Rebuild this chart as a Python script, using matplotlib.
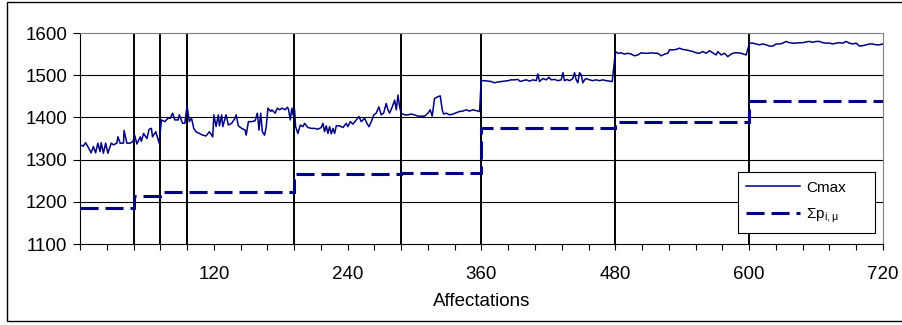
import matplotlib
matplotlib.use("Agg")
import matplotlib.pyplot as plt
from matplotlib.patches import Rectangle
from matplotlib.ticker import FixedLocator, FuncFormatter

plt.rcParams['font.family'] = ['Liberation Sans', 'DejaVu Sans']
plt.rcParams['mathtext.fontset'] = 'custom'
plt.rcParams['mathtext.rm'] = 'Liberation Sans'
plt.rcParams['mathtext.it'] = 'Liberation Sans'
plt.rcParams['lines.scale_dashes'] = False

# Cmax (affectation index, value)
cmax_x = [0, 3, 5, 7, 10, 12, 14, 16, 18, 19, 21, 23, 25, 28, 30, 33, 34, 36, 39, 39.5,
          42, 45, 47.5, 49, 51, 54, 55, 57, 60, 62, 64, 65, 68, 71, 73, 76, 79, 81,
          83, 85, 88, 89, 92, 94, 96, 98, 100, 102, 104, 107, 110, 113, 116, 119, 120,
          122, 124, 125, 127, 128, 131, 133, 136, 139, 140, 142, 145, 148, 149, 151, 154,
          157, 159, 160.5, 162, 163.5, 165.5, 167, 168.5, 171, 172, 175, 177, 179, 181,
          184, 186, 187, 188.5, 190, 191,
          192.4, 193.3, 195.4, 197.5, 199.9, 201.4, 204.4, 207.4, 210.4, 213.4, 216.3,
          217.8, 219.3, 220.8, 222.3, 223.8, 225.3, 226.8, 228.3, 229.8, 232.8, 235.8,
          238.7, 240.2, 242.3, 244.7, 247.7, 250.1, 252.2, 255.2, 257.3, 259.1, 261.2,
          263.5, 265.6, 268, 270.1, 272.2, 274.6, 276.1, 277.6, 280, 282.1, 283.6, 285.1,
          286.6, 288, 291, 294, 297, 300, 303, 306, 309, 312, 314, 315.8, 317.9, 320.9,
          323, 324.8, 326, 328.4, 331.4, 334.4, 337.3, 340.3, 343.3, 346.3, 349.3, 352.3,
          355.3, 358.3, 359.7, 362.7, 365.7, 368.7, 371.7, 374.7, 377.7, 380.7, 383.7,
          386.6, 389.6, 392.6, 394.7, 397.1, 400.1, 403.1, 406.1, 409.1, 410.5, 412,
          415, 418, 420.4, 422.5, 425.5, 428.5, 431.5, 433, 434.4, 436.5, 438.9, 441.9,
          443.4, 444.9, 446.4, 447.9, 449.4, 450.9, 452.4, 453.9, 456.8, 459.8, 462.8,
          465.8, 468.8, 471.8, 474.8, 477.2,
          480.1, 482.2, 485.2, 488.2, 491.2, 494.2, 497.2, 500.2, 503.1, 506.1, 509.1,
          512.1, 515.1, 518.1, 521.1, 524.1, 527.1, 528.5, 531.5, 534.5, 537.5, 540.5,
          543.5, 546.5, 549.5, 552.5, 555.4, 558.4, 561.4, 564.4, 567.4, 570.4, 571.9,
          574.9, 577.9, 580.8, 583.8, 586.8, 589.8, 592.8, 597.3,
          600.3, 603.2, 606.2, 609.2, 612.2, 615.2, 618.2, 621.2, 624.2, 627.2, 630.1,
          633.1, 636.1, 639.1, 642.1, 645.1, 648.1, 651.1, 654, 657, 660, 663, 666,
          669, 672, 675, 678, 680.9, 683.9, 686.9, 689.9, 692.9, 695.9, 698.9, 701.9,
          704.8, 707.8, 710.8, 713.8, 716.8, 719.8]
cmax_y = [1335, 1332, 1340, 1331, 1316, 1331, 1316, 1339, 1319, 1340, 1315, 1339, 1315, 1339,
          1335, 1339, 1354, 1339, 1339, 1369, 1339, 1339, 1343, 1358, 1337, 1354, 1343,
          1362, 1350, 1372, 1374, 1354, 1366, 1339, 1394, 1390, 1398, 1398, 1410, 1394,
          1394, 1406, 1386, 1386, 1427, 1390, 1398, 1374, 1366, 1362, 1358, 1356, 1366,
          1354, 1406, 1378, 1406, 1380, 1406, 1378, 1406, 1382, 1386, 1398, 1406, 1380,
          1374, 1370, 1358, 1390, 1390, 1392, 1410, 1370, 1410, 1366, 1358, 1378, 1422,
          1414, 1418, 1410, 1422, 1418, 1422, 1418, 1424, 1419, 1394, 1422, 1406,
          1418, 1378, 1362, 1382, 1378, 1386, 1376, 1374, 1374, 1372, 1376, 1386, 1366,
          1380, 1362, 1378, 1361, 1374, 1362, 1380, 1380, 1376, 1386, 1378, 1390, 1384,
          1394, 1402, 1390, 1398, 1386, 1378, 1390, 1406, 1410, 1425, 1406, 1410, 1433,
          1418, 1410, 1425, 1441, 1418, 1453, 1425, 1410, 1406, 1406, 1408, 1406, 1403,
          1403, 1403, 1410, 1418, 1403, 1445, 1449, 1451, 1418, 1408, 1410, 1406, 1408,
          1411, 1414, 1415, 1418, 1415, 1418, 1416, 1414, 1487, 1487, 1486, 1485, 1482,
          1484, 1485, 1486, 1487, 1489, 1489, 1490, 1485, 1487, 1489, 1486, 1489, 1487,
          1503, 1485, 1492, 1489, 1495, 1489, 1490, 1487, 1489, 1506, 1487, 1490, 1487,
          1492, 1506, 1489, 1482, 1506, 1501, 1482, 1489, 1492, 1489, 1487, 1489, 1487,
          1489, 1487, 1486, 1485,
          1556, 1552, 1553, 1550, 1552, 1550, 1546, 1548, 1553, 1552, 1552, 1553, 1552,
          1552, 1546, 1550, 1552, 1560, 1560, 1561, 1564, 1561, 1560, 1558, 1556, 1553,
          1552, 1556, 1552, 1558, 1553, 1548, 1556, 1548, 1552, 1544, 1550, 1553, 1553,
          1552, 1548,
          1576, 1576, 1574, 1572, 1574, 1572, 1569, 1569, 1574, 1574, 1576, 1580, 1577,
          1576, 1576, 1577, 1577, 1579, 1580, 1578, 1580, 1580, 1577, 1576, 1576, 1574,
          1576, 1577, 1576, 1580, 1576, 1574, 1576, 1569, 1570, 1572, 1574, 1574, 1572,
          1572, 1574]

# sum of processing times, constant per block
sum_p_edges = [0, 48, 72, 192, 288, 360, 480, 600, 720]
sum_p_values = [1186, 1213, 1223, 1265, 1268, 1376, 1390, 1438]

separators = [48, 72, 96, 192, 288, 360, 480, 600]

fig = plt.figure(figsize=(9.03, 3.25), dpi=100)
ax = fig.add_axes([80 / 903, 81 / 325, 803 / 903, 211 / 325])

for s in ax.spines.values():
    s.set_color('#808080')
ax.spines['left'].set_color('black')
ax.spines['bottom'].set_color('black')

for v in [1200, 1300, 1400, 1500]:
    ax.axhline(v, color='black', lw=0.8, zorder=1)
for s in separators:
    ax.axvline(s, color='black', lw=1.4, zorder=1)

ax.plot(cmax_x, cmax_y, color='#000080', lw=1.1, label='Cmax', zorder=3)
ax.stairs(sum_p_values, sum_p_edges, baseline=None, color='#000080', lw=2.2,
          linestyle=(0, (13, 5)), zorder=3)
ax.plot([], [], color='#000080', lw=2.2, linestyle=(0, (13, 5)),
        label=r'$\mathregular{\Sigma p_{i,\mu}}$')

ax.set_xlim(0, 720)
ax.set_ylim(1100, 1600)
ax.set_yticks([1100, 1200, 1300, 1400, 1500, 1600])
ax.xaxis.set_major_locator(FixedLocator(list(range(0, 721, 24))))
ax.xaxis.set_major_formatter(FuncFormatter(lambda v, p: str(int(v)) if v > 0 and int(v) % 120 == 0 else ''))
ax.tick_params(axis='x', direction='out', length=4, width=0.8, labelsize=13.5, pad=12)
ax.tick_params(axis='y', direction='out', length=5, width=0.8, labelsize=13.5, pad=4)
ax.set_xlabel('Affectations', fontsize=13.5, labelpad=7)

leg = ax.legend(loc='lower left', bbox_to_anchor=(658 / 803, 11 / 211, 137 / 803, 60 / 211),
                mode='expand', borderaxespad=0, fontsize=11,
                handlelength=3.5, handletextpad=0.4, fancybox=False, framealpha=1,
                edgecolor='black', borderpad=0.55, labelspacing=0.75)
leg.get_frame().set_linewidth(0.8)

fig.patches.append(Rectangle((7 / 903, 4 / 325), 1.0, 319 / 325, transform=fig.transFigure,
                             fill=False, edgecolor='black', lw=1.0))

fig.savefig('out.png', dpi=100)
